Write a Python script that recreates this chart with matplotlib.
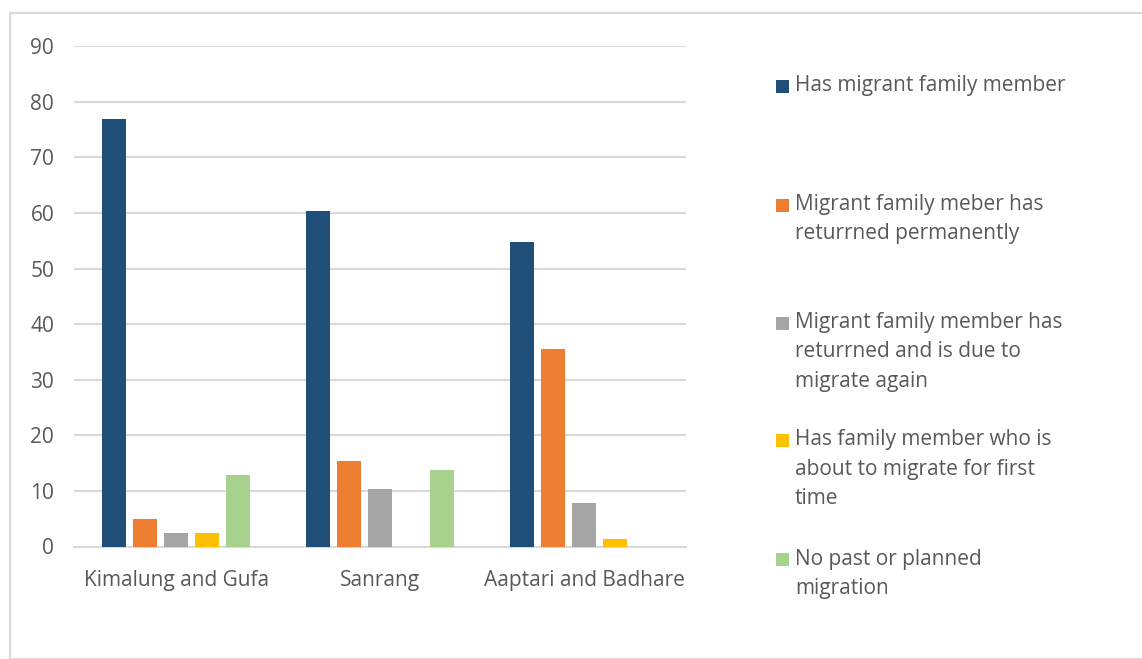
import numpy as np
import matplotlib
matplotlib.use("Agg")
import matplotlib.pyplot as plt
from matplotlib.patches import Rectangle

# data (percent of households)
regions = ["Kimalung and Gufa", "Sanrang", "Aaptari and Badhare"]
has_migrant = [76.9, 60.4, 54.8]
returned_perm = [4.9, 15.4, 35.6]
returned_again = [2.4, 10.3, 7.9]
about_to_migrate = [2.4, 0.0, 1.4]
no_migration = [12.8, 13.8, 0.0]
yticks = [0, 10, 20, 30, 40, 50, 60, 70, 80, 90]

series_labels = [
    "Has migrant family member",
    "Migrant family meber has\nreturrned permanently",
    "Migrant family member has\nreturrned and is due to\nmigrate again",
    "Has family member who is\nabout to migrate for first\ntime",
    "No past or planned\nmigration",
]
series = [has_migrant, returned_perm, returned_again, about_to_migrate, no_migration]
colors = ["#1f4e79", "#ed7d31", "#a5a5a5", "#ffc000", "#a9d18e"]
txt_col = "#595959"
grid_col = "#d9d9d9"
fsize = 15

plt.rcParams["font.family"] = ["Open Sans", "DejaVu Sans"]

W, H = 1142, 659
fig = plt.figure(figsize=(W / 100, H / 100), dpi=100)

# outer chart border
fig.patches.append(Rectangle((10 / W, 0), 1.2, 1 - 12.5 / H, transform=fig.transFigure,
                             fill=False, edgecolor=grid_col, linewidth=1.5))

ax = fig.add_axes([74.3 / W, 1 - 546.5 / H, (686 - 74.3) / W, (546.5 - 46.2) / H])

x = np.arange(len(regions))
bw = 0.118
pitch = 0.152
for i, (vals, col) in enumerate(zip(series, colors)):
    ax.bar(x + (i - 2) * pitch, vals, width=bw, color=col, zorder=3)

ax.set_xlim(-0.5, len(regions) - 0.5)
ax.set_ylim(0, 90)
ax.set_yticks(yticks)
ax.set_xticks(x)
ax.set_xticklabels(regions)
ax.yaxis.grid(True, color=grid_col, linewidth=1.5, zorder=0)
for s in ["top", "right", "left"]:
    ax.spines[s].set_visible(False)
ax.spines["bottom"].set_color(grid_col)
ax.spines["bottom"].set_linewidth(1.5)
ax.tick_params(axis="both", length=0, labelsize=fsize, colors=txt_col)
ax.tick_params(axis="y", pad=14.5)
ax.tick_params(axis="x", pad=17)

# legend drawn by hand, as in the Excel layout
legend_top = [86, 204.5, 322.5, 440, 559]
line_h = 29.4
for lab, col, y0 in zip(series_labels, colors, legend_top):
    fig.patches.append(Rectangle((776 / W, 1 - (y0 + 7) / H), 13 / W, 13 / H,
                                 transform=fig.transFigure, facecolor=col, edgecolor="none"))
    for k, line in enumerate(lab.split("\n")):
        fig.text(795 / W, 1 - (y0 + k * line_h) / H, line, color=txt_col,
                 fontsize=fsize, va="center", ha="left")

fig.savefig("out.png", dpi=100)
